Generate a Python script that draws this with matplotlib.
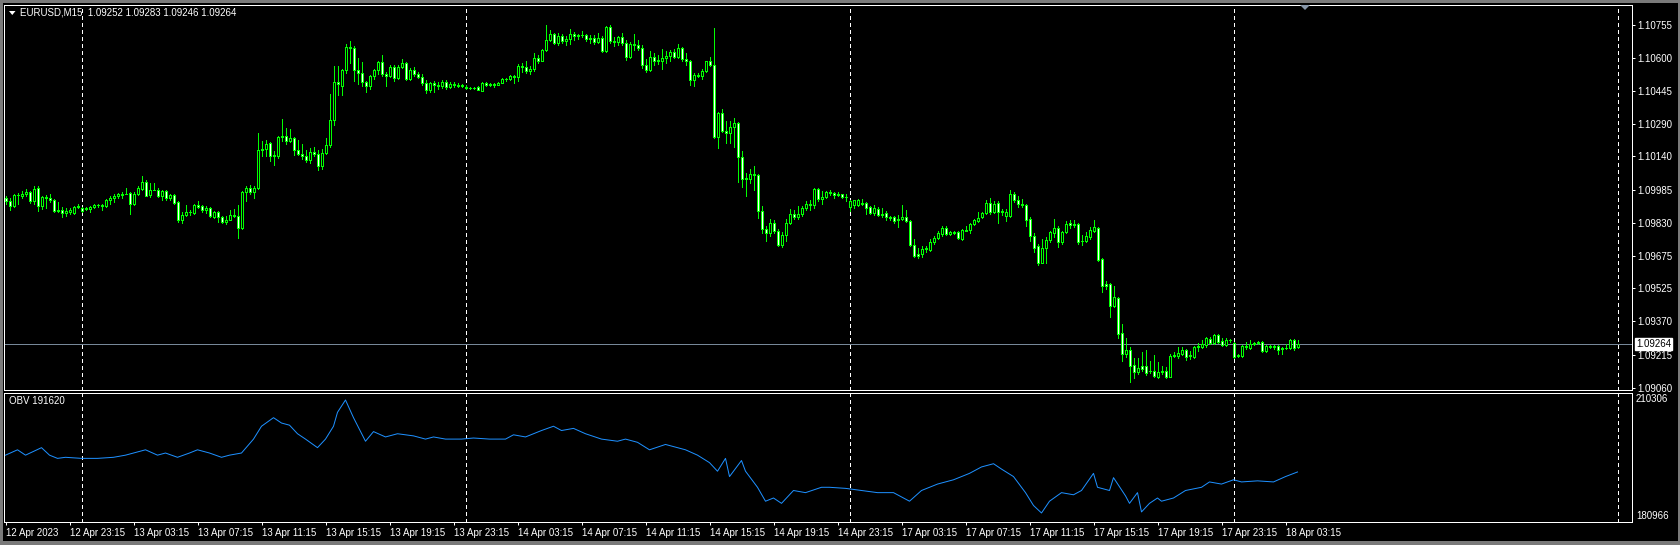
import matplotlib
matplotlib.use("Agg")
import matplotlib.pyplot as plt
import numpy as np
from matplotlib.patches import Rectangle, Polygon
from matplotlib.collections import PatchCollection, LineCollection
import matplotlib.transforms as mtransforms

# ---------------- data (EURUSD M15, prices in points = price * 1e5) ----------------
symbol_title = "EURUSD,M15"
last_ohlc_text = "1.09252 1.09283 1.09246 1.09264"

opens = [109947,109933,109909,109961,109956,109965,109975,109933,109993,109909,
109951,109947,109937,109886,109891,109877,109881,109877,109905,109900,
109895,109895,109905,109914,109914,109909,109937,109947,109956,109961,
109965,109970,109919,109965,109989,110021,109961,109984,109984,109956,
109979,109947,109961,109928,109844,109867,109881,109877,109914,109909,
109891,109900,109858,109881,109858,109835,109844,109867,109863,109807,
109975,109993,109975,109993,110171,110175,110203,110147,110143,110231,
110236,110213,110227,110171,110152,110143,110124,110161,110152,110096,
110157,110194,110311,110488,110469,110544,110651,110647,110544,110530,
110488,110469,110516,110544,110581,110525,110516,110558,110507,110558,
110577,110502,110544,110525,110511,110483,110451,110483,110474,110469,
110488,110465,110479,110474,110469,110465,110460,110460,110465,110446,
110483,110474,110479,110474,110483,110502,110502,110516,110511,110563,
110558,110539,110549,110600,110586,110637,110684,110712,110670,110703,
110679,110689,110712,110703,110707,110707,110689,110693,110675,110693,
110633,110745,110679,110675,110698,110670,110605,110665,110661,110647,
110567,110544,110605,110586,110586,110600,110609,110628,110605,110647,
110595,110586,110497,110521,110516,110539,110586,110567,110231,110343,
110259,110250,110278,110297,110138,110040,110035,110059,110054,109886,
109802,109783,109830,109793,109727,109774,109830,109872,109858,109872,
109900,109919,109912,109989,109942,109951,109975,109970,109961,109965,
109951,109905,109912,109914,109923,109923,109905,109877,109895,109872,
109877,109858,109858,109849,109849,109858,109839,109727,109685,109685,
109709,109704,109741,109760,109779,109807,109779,109783,109788,109755,
109793,109797,109825,109839,109858,109877,109923,109881,109923,109886,
109863,109863,109965,109937,109919,109914,109849,109769,109723,109643,
109713,109751,109783,109807,109741,109788,109830,109821,109825,109746,
109744,109765,109793,109807,109662,109545,109545,109443,109480,109317,
109219,109237,109167,109135,109163,109163,109139,109139,109111,109139,
109139,109111,109209,109209,109219,109237,109214,109205,109251,109251,
109261,109289,109270,109307,109279,109261,109284,109270,109214,109209,
109256,109247,109270,109275,109275,109233,109256,109256,109256,109247,
109247,109247,109284,109252]

highs = [109956,109947,109965,109970,109979,109989,109979,110003,110003,109956,
109961,109965,109940,109928,109905,109900,109900,109909,109919,109903,
109903,109908,109919,109919,109919,109942,109956,109965,109970,109975,
109993,109975,109975,110003,110049,110031,110017,110017,109993,109984,
109984,109965,109965,109933,109881,109914,109891,109919,109933,109912,
109909,109903,109885,109884,109863,109863,109891,109895,109914,109979,
110003,110007,110003,110250,110213,110217,110208,110166,110236,110315,
110273,110269,110231,110217,110199,110171,110180,110185,110171,110175,
110227,110432,110563,110563,110549,110665,110679,110656,110600,110581,
110493,110521,110549,110586,110614,110532,110567,110567,110567,110595,
110581,110553,110558,110535,110525,110497,110488,110493,110488,110497,
110497,110488,110488,110483,110479,110474,110465,110465,110469,110488,
110488,110483,110483,110488,110507,110507,110521,110521,110572,110577,
110586,110563,110623,110614,110642,110754,110731,110717,110717,110712,
110703,110735,110721,110712,110726,110712,110707,110707,110717,110703,
110749,110754,110698,110703,110717,110684,110675,110712,110684,110661,
110595,110633,110623,110614,110642,110633,110637,110642,110665,110651,
110623,110590,110530,110530,110549,110586,110605,110740,110348,110362,
110306,110306,110320,110301,110166,110063,110082,110096,110059,109909,
109816,109849,109844,109802,109788,109849,109895,109891,109909,109909,
109933,109937,109993,109993,109979,109979,109984,109975,109975,109966,
109965,109937,109937,109942,109942,109928,109909,109914,109905,109900,
109886,109863,109863,109867,109914,109891,109844,109755,109713,109723,
109723,109755,109769,109793,109816,109816,109790,109793,109793,109802,
109816,109830,109849,109881,109881,109937,109947,109933,109933,109895,
109895,109984,109975,109956,109942,109917,109858,109783,109732,109755,
109765,109793,109849,109816,109793,109839,109844,109844,109830,109774,
109788,109811,109844,109810,109665,109559,109550,109536,109485,109359,
109293,109251,109200,109200,109228,109237,109186,109214,109181,109163,
109158,109219,109228,109251,109251,109242,109233,109256,109270,109284,
109298,109298,109312,109312,109293,109293,109289,109275,109216,109261,
109275,109284,109275,109279,109279,109261,109258,109261,109261,109251,
109265,109289,109289,109283]

lows = [109919,109891,109905,109919,109947,109956,109923,109919,109886,109895,
109900,109928,109881,109881,109858,109863,109872,109872,109900,109881,
109891,109881,109900,109905,109891,109905,109919,109928,109947,109947,
109963,109872,109914,109961,109984,109953,109951,109982,109951,109937,
109937,109937,109919,109835,109830,109863,109867,109872,109900,109881,
109877,109858,109853,109835,109830,109825,109844,109858,109760,109802,
109933,109965,109947,109989,110143,110143,110119,110101,110133,110213,
110199,110208,110147,110147,110129,110115,110110,110143,110077,110082,
110152,110185,110287,110427,110427,110530,110577,110493,110479,110469,
110441,110455,110502,110525,110516,110469,110511,110493,110502,110553,
110497,110497,110516,110507,110474,110437,110441,110441,110455,110460,
110455,110460,110465,110465,110465,110455,110455,110455,110451,110446,
110469,110469,110465,110474,110483,110493,110497,110483,110493,110535,
110530,110525,110539,110577,110586,110633,110679,110665,110661,110670,
110661,110665,110684,110689,110698,110679,110670,110665,110670,110628,
110628,110670,110656,110661,110661,110591,110600,110637,110637,110553,
110535,110539,110567,110572,110549,110577,110586,110600,110600,110586,
110567,110474,110469,110511,110502,110535,110563,110227,110180,110255,
110203,110203,110185,110021,109998,109956,110017,109984,109853,109783,
109746,109769,109783,109723,109718,109746,109825,109849,109849,109863,
109891,109891,109900,109933,109919,109947,109961,109947,109956,109947,
109933,109886,109900,109909,109914,109872,109872,109867,109863,109858,
109844,109844,109830,109811,109844,109835,109723,109671,109667,109671,
109695,109699,109732,109755,109769,109774,109774,109779,109755,109751,
109790,109783,109821,109835,109853,109872,109872,109877,109830,109867,
109839,109858,109928,109905,109905,109816,109746,109695,109634,109640,
109643,109741,109765,109718,109732,109783,109807,109811,109732,109727,
109741,109755,109788,109653,109508,109522,109391,109438,109293,109186,
109205,109088,109107,109125,109139,109121,109130,109111,109107,109125,
109107,109109,109205,109200,109214,109191,109195,109200,109233,109247,
109251,109265,109265,109270,109256,109256,109275,109200,109205,109205,
109242,109242,109261,109265,109228,109228,109247,109242,109219,109219,
109242,109242,109237,109246]

closes = [109933,109909,109961,109961,109965,109975,109933,109989,109909,109951,
109947,109937,109886,109891,109877,109886,109891,109905,109909,109886,
109900,109905,109914,109914,109909,109937,109947,109956,109965,109965,
109966,109919,109965,109993,110021,109956,109984,109985,109956,109979,
109947,109961,109923,109844,109867,109881,109881,109914,109905,109891,
109900,109863,109881,109858,109835,109844,109867,109863,109807,109975,
109993,109975,109993,110171,110175,110199,110143,110143,110231,110236,
110213,110227,110171,110152,110143,110124,110161,110152,110096,110157,
110194,110311,110488,110479,110544,110651,110647,110544,110530,110488,
110469,110516,110544,110581,110525,110516,110558,110507,110558,110577,
110502,110544,110525,110511,110483,110451,110483,110474,110469,110488,
110465,110479,110474,110469,110474,110460,110460,110458,110451,110483,
110474,110479,110474,110483,110502,110502,110516,110511,110563,110558,
110539,110549,110600,110586,110637,110684,110712,110670,110703,110679,
110689,110712,110703,110707,110707,110689,110693,110675,110693,110633,
110745,110679,110675,110698,110670,110605,110665,110661,110647,110567,
110544,110605,110586,110591,110600,110609,110628,110605,110647,110595,
110586,110497,110521,110516,110539,110586,110567,110231,110343,110259,
110250,110278,110297,110138,110035,110035,110059,110054,109886,109802,
109783,109830,109793,109727,109774,109830,109872,109858,109872,109900,
109919,109912,109989,109942,109951,109975,109970,109961,109965,109951,
109951,109930,109935,109937,109919,109900,109877,109900,109867,109867,
109858,109853,109839,109844,109858,109839,109727,109676,109676,109709,
109711,109741,109760,109783,109807,109779,109788,109788,109760,109797,
109797,109825,109844,109853,109877,109923,109881,109919,109881,109881,
109881,109965,109937,109919,109914,109844,109769,109713,109643,109713,
109751,109788,109807,109741,109788,109825,109821,109825,109741,109744,
109769,109797,109811,109657,109536,109536,109443,109485,109312,109219,
109237,109163,109135,109153,109149,109130,109139,109116,109135,109135,
109111,109209,109214,109223,109237,109205,109209,109251,109256,109265,
109293,109270,109307,109275,109261,109284,109282,109205,109209,109256,
109251,109265,109265,109270,109233,109256,109251,109251,109237,109242,
109247,109284,109247,109264]

# OBV indicator, read at selected bars
obv_bars = [0,3,5,9,11,13,15,19,23,27,30,32,35,38,40,43,46,48,51,54,
56,59,62,64,67,69,71,73,75,78,80,82,83,85,87,90,92,95,98,102,
105,107,110,114,117,121,125,127,130,134,137,139,142,145,149,153,155,158,161,165,
168,170,173,176,178,180,181,184,185,188,190,192,194,197,200,204,206,210,214,218,
222,226,229,233,237,241,244,247,249,252,255,257,259,261,264,267,269,272,273,276,
277,280,281,283,284,286,288,289,292,295,299,301,304,307,309,313,317,320,323]
obv_vals = [195984,197375,195984,197931,195984,195150,195428,195150,195150,195428,
195984,196540,197375,195984,196540,195428,196540,197375,196540,195428,
195984,196540,200155,203492,205717,204326,203770,201546,200155,197931,
200155,203492,207108,210306,205717,199599,202102,200712,201546,200990,
200155,200712,200155,200155,200434,200155,200155,201268,200712,202380,
203492,202380,202936,201546,200155,199599,200155,199321,197375,198765,
197931,197375,195984,194038,191813,195150,190423,194594,191813,187642,
184027,184861,183471,186808,186252,187642,187642,187364,186808,186252,
186252,184027,186808,188476,189589,191257,192925,193760,192369,190423,
186252,182915,180966,184027,186252,185696,186808,191257,187642,186808,
190145,185418,183471,186252,181246,183471,184861,184027,184861,186808,
187642,189032,188476,189589,189032,189311,189032,190423,191620]

price_ticks = [1.10755, 1.10600, 1.10445, 1.10290, 1.10140, 1.09985,
               1.09830, 1.09675, 1.09525, 1.09370, 1.09215, 1.09060]

time_labels = ["12 Apr 2023", "12 Apr 23:15", "13 Apr 03:15", "13 Apr 07:15",
               "13 Apr 11:15", "13 Apr 15:15", "13 Apr 19:15", "13 Apr 23:15",
               "14 Apr 03:15", "14 Apr 07:15", "14 Apr 11:15", "14 Apr 15:15",
               "14 Apr 19:15", "14 Apr 23:15", "17 Apr 03:15", "17 Apr 07:15",
               "17 Apr 11:15", "17 Apr 15:15", "17 Apr 19:15", "17 Apr 23:15",
               "18 Apr 03:15"]
bars_per_label = 16
day_start_bars = [19, 115, 211, 307, 403]   # bars at 00:00 (period separators)

# ---------------- styling ----------------
W, H = 1680, 545
FONT = "Liberation Sans"
FS = 7
PX = 0.72  # 1 px in points at dpi 100
LIME = "#00FF00"
plt.rcParams["font.family"] = [FONT, "DejaVu Sans"]

O = np.array(opens) / 1e5
Hh = np.array(highs) / 1e5
Ll = np.array(lows) / 1e5
C = np.array(closes) / 1e5
Hh = np.maximum(Hh, np.maximum(O, C))
Ll = np.minimum(Ll, np.minimum(O, C))
n = len(C)
idx = np.arange(n)

fig = plt.figure(figsize=(W / 100, H / 100), dpi=100, facecolor="black")

def fx(px):
    return px / W

def fy(py):
    return 1 - py / H

LEFT, RIGHT = 4, 1632
MAIN_TOP, MAIN_BOT = 5, 390
OBV_TOP, OBV_BOT = 392.5, 522

ax = fig.add_axes([fx(LEFT), fy(MAIN_BOT), (RIGHT - LEFT) / W, (MAIN_BOT - MAIN_TOP) / H])
ax2 = fig.add_axes([fx(LEFT), fy(OBV_BOT), (RIGHT - LEFT) / W, (OBV_BOT - OBV_TOP) / H])

px_per_bar = 4
xmin = -0.375
xmax = xmin + (RIGHT - LEFT) / px_per_bar
for a in (ax, ax2):
    a.set_facecolor("black")
    a.set_xlim(xmin, xmax)
    for s in a.spines.values():
        s.set_color("white")
        s.set_linewidth(PX)

# price scale: 1.10755 at y=24.7px, 1.09060 at y=387.7px
ppp = (price_ticks[0] - price_ticks[-1]) / 363.0
ax.set_ylim(price_ticks[-1] - (MAIN_BOT - 387.7) * ppp,
            price_ticks[-1] + (387.7 - MAIN_TOP) * ppp)

# period separators
for a in (ax, ax2):
    for b in day_start_bars:
        a.axvline(b, color="white", lw=PX, ls=(0, (3, 3)), zorder=1, antialiased=False)

# bid line
ax.axhline(C[-1], color="#778899", lw=PX, zorder=1.5, antialiased=False)

# candles
segs = [[(i, Ll[i]), (i, Hh[i])] for i in idx]
ax.add_collection(LineCollection(segs, colors=LIME, linewidths=PX, zorder=2, antialiased=False))
rects, fcs = [], []
for i in idx:
    lo, hi = min(O[i], C[i]), max(O[i], C[i])
    rects.append(Rectangle((i - 0.25, lo), 0.5, hi - lo))
    fcs.append("white" if C[i] < O[i] else "black")
pc = PatchCollection(rects, facecolors=fcs, edgecolors=LIME, linewidths=PX, zorder=3, antialiased=False)
ax.add_collection(pc)

# price axis on right
ax.set_xticks([])
ax.yaxis.tick_right()
ax.set_yticks(price_ticks)
ax.set_yticklabels([f"{p:.5f}" for p in price_ticks])
ax.tick_params(axis="y", colors="white", length=2.2, width=PX, pad=1.6, labelsize=FS)

# bid label
trans = mtransforms.blended_transform_factory(ax.transAxes, ax.transData)
trans = mtransforms.offset_copy(trans, fig=fig, x=4, y=0, units="dots")
ax.text(1.0, C[-1], f"{C[-1]:.5f}", transform=trans, color="black", fontsize=FS,
        ha="left", va="center", clip_on=False, zorder=10,
        bbox=dict(boxstyle="square,pad=0.12", fc="white", ec="white"))

# OBV panel
ov = np.array(obv_vals, dtype=float)
omax, omin = ov.max(), ov.min()
k = (omax - omin) / 113.0
ax2.set_ylim(omin - 9 * k, omax + 7.5 * k)
ax2.plot(obv_bars, ov, color="#1E90FF", lw=PX, zorder=3)
ax2.set_yticks([])
tick_bars = list(range(0, bars_per_label * len(time_labels), bars_per_label))
ax2.set_xticks(tick_bars)
ax2.set_xticklabels(time_labels, ha="left")
ax2.tick_params(axis="x", colors="white", length=2.2, width=PX, pad=1.8, labelsize=FS)

fig.text(fx(1636), fy(399), f"{omax:.0f}", color="white", fontsize=FS, va="center", ha="left")
fig.text(fx(1636), fy(516), f"{omin:.0f}", color="white", fontsize=FS, va="center", ha="left")
fig.text(fx(9), fy(401), f"OBV {obv_vals[-1]}", color="white", fontsize=FS, va="center", ha="left")

# title
fig.text(fx(20), fy(12.7), f"{symbol_title}  {last_ohlc_text}", color="white",
         fontsize=FS, va="center", ha="left")
fig.patches.append(Polygon([(fx(9), fy(11)), (fx(15.5), fy(11)), (fx(12.25), fy(15))],
                           closed=True, fc="white", ec="none", transform=fig.transFigure, figure=fig))
# chart-shift marker
fig.patches.append(Polygon([(fx(1300), fy(5)), (fx(1310), fy(5)), (fx(1305), fy(10))],
                           closed=True, fc="#8796a8", ec="none", transform=fig.transFigure, figure=fig))

# window frame
for (x0, y0, w, h) in [(0, 0, W, 3), (0, H - 4, W, 4), (0, 0, 2.5, H), (W - 2, 0, 2, H)]:
    fig.patches.append(Rectangle((fx(x0), fy(y0 + h)), w / W, h / H, fc="#7a7a7a", ec="none",
                                 transform=fig.transFigure, figure=fig))

fig.savefig("out.png", dpi=100, facecolor="black")
